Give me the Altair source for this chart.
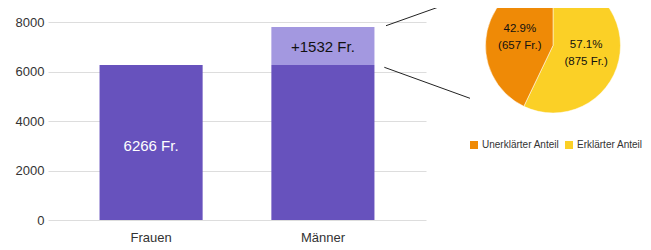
import altair as alt
import pandas as pd

# ---- data ----
categories = ["Frauen", "Männer"]
base_values = [6266, 6266]
extra_values = [0, 1532]
bar_labels = ["6266 Fr.", ""]
extra_labels = ["", "+1532 Fr."]

pie_parts = ["Erklärter Anteil", "Unerklärter Anteil"]
pie_values = [875, 657]
pie_pct = ["57.1%", "42.9%"]
pie_amt = ["(875 Fr.)", "(657 Fr.)"]
legend_order = ["Unerklärter Anteil", "Erklärter Anteil"]

# leader lines (y in data units)
conn_y_start = [7850, 6170]
conn_y_end = [8889, 4917]

y_ticks = [0, 2000, 4000, 6000, 8000]

FONT = "Liberation Sans"
DARK = "#6752BD"
LIGHT = "#A398E0"
ORANGE = "#EF8A06"
YELLOW = "#FBD026"

bars = pd.DataFrame({
    "cat": categories,
    "base": base_values,
    "top": [b + e for b, e in zip(base_values, extra_values)],
    "mid_base": [b / 2 for b in base_values],
    "mid_extra": [b + e / 2 for b, e in zip(base_values, extra_values)],
    "lab": bar_labels,
    "lab2": extra_labels,
    "zero": [0, 0],
})
pie = pd.DataFrame({
    "part": pie_parts,
    "val": pie_values,
    "txt": [p + "\n" + a for p, a in zip(pie_pct, pie_amt)],
    "ord": [0, 1],
})
conn = pd.DataFrame({
    "xs": [338, 336.3],
    "xe": [410.3, 422],
    "ys": conn_y_start,
    "ye": conn_y_end,
})

ymax = 8000 * 212 / 198
yscale = alt.Scale(domain=[0, ymax], nice=False, zero=True)
xscale = alt.Scale(paddingInner=0.4, paddingOuter=0.3)

x_enc = alt.X("cat:N", scale=xscale, sort=categories, title=None,
              axis=alt.Axis(labelAngle=0, labelFontSize=13, labelColor="#333",
                            labelFont=FONT, ticks=False, domain=False,
                            labelPadding=11, grid=False))
y_axis = alt.Axis(values=y_ticks, format="d", labelFontSize=13, labelColor="#333",
                  labelFont=FONT, ticks=False, domain=False, labelPadding=4,
                  gridColor="#DDDDDD", gridWidth=1, title=None)

base_bar = alt.Chart(bars).mark_bar(color=DARK).encode(
    x=x_enc,
    y=alt.Y("zero:Q", scale=yscale, axis=y_axis),
    y2="base:Q",
)
extra_bar = alt.Chart(bars).mark_bar(color=LIGHT).encode(
    x=alt.X("cat:N", sort=categories),
    y=alt.Y("base:Q"),
    y2="top:Q",
)
lab1 = alt.Chart(bars).mark_text(color="white", fontSize=15, font=FONT,
                                 baseline="middle", dy=3.5).encode(
    x=alt.X("cat:N", sort=categories), y=alt.Y("mid_base:Q"), text="lab:N")
lab2 = alt.Chart(bars).mark_text(color="#111", fontSize=15, font=FONT,
                                 baseline="middle", dy=1).encode(
    x=alt.X("cat:N", sort=categories), y=alt.Y("mid_extra:Q"), text="lab2:N")

rules = alt.Chart(conn).mark_rule(color="#222", strokeWidth=1).encode(
    x=alt.X("xs:Q", scale=None, axis=None),
    x2="xe:Q",
    y=alt.Y("ys:Q"),
    y2="ye:Q",
)

color = alt.Color("part:N", scale=alt.Scale(domain=legend_order, range=[ORANGE, YELLOW]),
                  legend=alt.Legend(title=None, orient="none", legendX=421, legendY=132,
                                    direction="horizontal", symbolType="square",
                                    symbolSize=64, symbolStrokeWidth=0, symbolOpacity=1,
                                    labelFontSize=10, labelFont=FONT, labelColor="#333",
                                    labelOffset=3, columnPadding=4, padding=0))

arc = alt.Chart(pie).mark_arc(radius=67.5, stroke="white", strokeWidth=0.5).encode(
    theta=alt.Theta("val:Q", stack=True),
    color=color,
    order=alt.Order("ord:Q"),
    x=alt.value(505),
    y=alt.value(37.5),
)
arc_text = alt.Chart(pie).mark_text(radius=34, fontSize=11.5, font=FONT, color="#111",
                                    lineBreak="\n", lineHeight=17, baseline="middle",
                                    dy=-8.5).encode(
    theta=alt.Theta("val:Q", stack=True),
    order=alt.Order("ord:Q"),
    text="txt:N",
    x=alt.value(505),
    y=alt.value(37.5),
)

chart = alt.layer(base_bar, extra_bar, lab1, lab2, rules, arc, arc_text).properties(
    width=378, height=212,
    autosize=alt.AutoSizeParams(type="none"),
    padding={"left": 40, "top": 0, "right": 217, "bottom": 30},
).configure_view(stroke=None)

chart.save("out.html", embed_options={"renderer": "svg", "actions": False})
